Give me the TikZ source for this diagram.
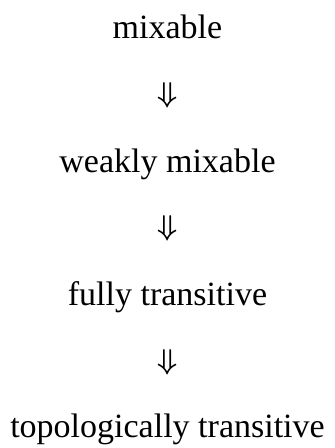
\documentclass[tikz,border=0pt]{standalone}
\usepackage{fontspec}
\usepackage{bm}
\usepackage{graphicx}
\setmainfont{Liberation Serif}
\begin{document}
\begin{tikzpicture}[x=1pt,y=1pt,
  lbl/.style={anchor=base, inner sep=0pt, font=\fontsize{34}{40}\selectfont},
  impl/.style={anchor=center, inner sep=0pt}]
\newcommand{\impsym}{\scalebox{1.15}{\fontsize{24.88}{30}\selectfont$\bm{\Downarrow}$}}
\useasboundingbox (0,0) rectangle (335,-448);
\node[lbl] (a) at (167.5,-38) {mixable};
\node[impl] (i1) at (167.5,-95) {\impsym};
\node[lbl] (b) at (167.5,-172) {weakly mixable};
\node[impl] (i2) at (167.5,-228.5) {\impsym};
\node[lbl] (c) at (167.5,-305) {fully transitive};
\node[impl] (i3) at (167.5,-362) {\impsym};
\node[lbl] (d) at (167.5,-437.5) {topologically transitive};
\end{tikzpicture}
\end{document}
